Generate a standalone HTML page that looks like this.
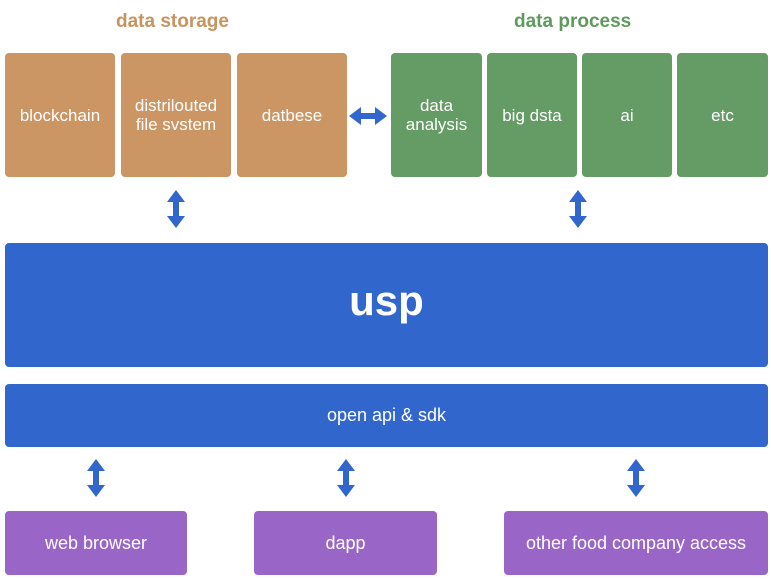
<!DOCTYPE html>
<html><head><style>
body{margin:0;width:771px;height:579px;background:#fff;position:relative;font-family:"Liberation Sans",sans-serif;overflow:hidden}
.b{position:absolute;border-radius:4px;color:#fff;display:flex;align-items:center;justify-content:center;text-align:center;font-size:17px;line-height:19px}
.s{background:#cb9664;top:53px;height:124px}
.g{background:#659b64;top:53px;height:124px}
.p{background:#9966c8;top:511px;height:64px;font-size:18px}
.t{position:absolute;font-weight:bold;font-size:19px;top:11px}
svg{position:absolute;left:0;top:0}
</style></head><body>
<div class="t" style="left:116px;color:#c9935f">data storage</div>
<div class="t" style="left:514px;color:#5e9a5c">data process</div>
<div class="b s" style="left:5px;width:110px">blockchain</div>
<div class="b s" style="left:121px;width:110px">distrilouted<br>file svstem</div>
<div class="b s" style="left:237px;width:110px">datbese</div>
<div class="b g" style="left:391px;width:91px">data<br>analysis</div>
<div class="b g" style="left:487px;width:90px">big dsta</div>
<div class="b g" style="left:582px;width:90px">ai</div>
<div class="b g" style="left:677px;width:91px">etc</div>
<div class="b" style="background:#3166cc;left:5px;top:243px;width:763px;height:116px;padding-bottom:8px;font-size:42px;font-weight:bold;line-height:44px">usp</div>
<div class="b" style="background:#3166cc;left:5px;top:384px;width:763px;height:63px;font-size:18px">open api &amp; sdk</div>
<div class="b p" style="left:5px;width:182px">web browser</div>
<div class="b p" style="left:254px;width:183px">dapp</div>
<div class="b p" style="left:504px;width:264px">other food company access</div>
<svg width="771" height="579" fill="#3166cc">
<defs><path id="v" d="M0,-19 L9,-7 L3,-7 L3,7 L9,7 L0,19 L-9,7 L-3,7 L-3,-7 L-9,-7 Z"/></defs>
<use href="#v" x="176" y="209"/>
<use href="#v" x="578" y="209"/>
<use href="#v" x="96" y="478"/>
<use href="#v" x="346" y="478"/>
<use href="#v" x="636" y="478"/>
<use href="#v" transform="translate(368,116) rotate(90)"/>
</svg>
</body></html>
